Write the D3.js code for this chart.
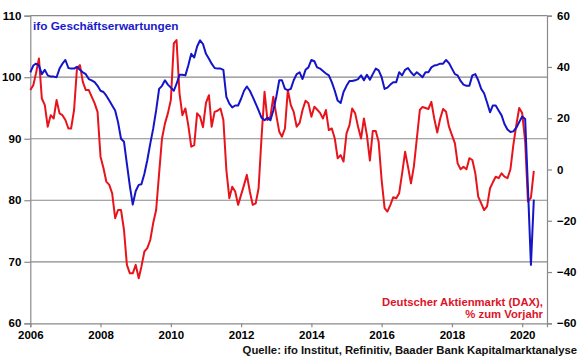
<!DOCTYPE html>
<html><head><meta charset="utf-8">
<script src="https://cdn.jsdelivr.net/npm/d3@7"></script>
<style>
html,body{margin:0;padding:0;background:#fff;}
svg text{font-family:Arial,"Liberation Sans",sans-serif;font-weight:bold;}
</style></head>
<body>
<svg id="c" width="580" height="359"></svg>
<script>
// Monthly data, Jan 2006 .. May 2020
const startYear = 2006, startMonth = 0;
const ifoExpectations = [
100.8,101.9,102.2,101.9,100.5,101.2,100.3,100.1,100.1,100.0,101.4,102.2,
102.8,101.5,101.4,101.4,101.7,101.2,100.8,100.5,99.7,99.5,99.2,98.6,
97.8,97.6,97.0,96.2,95.4,94.6,92.7,90.0,89.5,85.9,82.3,79.3,
81.5,82.5,82.6,84.3,86.5,89.2,91.6,94.6,98.1,98.6,99.5,98.8,
98.3,97.8,98.9,100.4,100.4,100.3,101.9,103.8,103.2,105.0,106.0,105.4,
103.8,103.0,102.2,101.5,101.4,101.4,101.2,96.8,95.7,95.1,95.4,95.4,
96.5,97.8,98.5,97.8,96.8,95.7,94.6,93.4,93.0,93.4,93.0,94.6,
96.8,99.5,99.5,98.1,97.9,98.1,99.5,100.5,100.8,99.7,101.2,101.6,
102.8,102.6,101.6,101.4,101.0,100.6,100.3,99.2,97.8,96.2,95.8,97.6,
98.6,99.4,99.4,99.5,99.7,100.3,99.5,100.4,99.6,100.5,101.4,101.1,
100.0,98.1,98.3,98.8,99.2,99.2,100.8,100.3,101.2,101.5,100.8,100.3,
100.8,100.4,100.0,100.8,100.8,101.6,101.9,102.0,102.2,102.2,102.8,102.3,
101.4,100.5,100.3,99.4,98.8,98.6,98.6,100.3,100.5,99.5,98.1,97.4,
95.9,94.3,95.4,95.4,94.6,93.8,92.4,91.5,91.1,91.2,91.8,92.7,
93.6,93.2,82.0,69.5,80.1
];
const daxYoY = [
31.0,32.9,37.5,43.3,27.7,25.1,16.7,21.2,19.9,27.1,21.9,21.2,
19.3,16.0,16.0,23.2,39.4,40.7,34.2,31.0,31.0,28.4,25.8,22.5,
5.0,0.5,-4.7,-6.0,-9.3,-19.0,-15.8,-15.8,-23.6,-37.2,-40.5,-40.5,
-37.2,-42.4,-37.9,-32.0,-30.7,-27.5,-21.0,-15.8,-1.5,12.1,18.0,21.9,
27.1,49.2,50.5,29.7,21.2,23.8,17.3,8.9,9.5,21.9,20.6,16.5,
26.0,29.0,16.7,22.5,22.9,23.8,19.3,-0.2,-11.2,-6.7,-8.6,-13.8,
-9.9,-6.0,-2.1,-8.6,-13.8,-13.2,-7.3,12.8,30.3,19.3,20.6,28.4,
21.2,14.7,12.8,16.0,31.0,25.1,22.5,16.7,18.2,23.2,26.8,25.8,
20.6,24.5,23.4,22.1,19.9,23.2,15.4,16.0,12.1,4.4,5.6,3.1,
14.1,17.3,23.8,21.9,16.7,12.1,19.9,13.4,3.5,15.0,15.0,10.8,
-4.1,-15.1,-16.4,-13.8,-10.8,-11.2,-9.3,-1.5,6.9,1.1,-5.4,1.1,
12.1,23.2,24.4,24.0,23.6,26.4,19.9,14.4,19.9,23.6,22.5,16.7,
13.4,10.2,2.4,0.1,1.1,0.1,4.4,3.7,-1.5,-10.6,-13.2,-15.8,
-14.4,-7.3,-5.1,-2.8,-3.4,-1.5,-2.8,-3.4,0.1,9.5,17.3,24.0,
22.0,11.0,-12.5,-11.0,-0.5
];
const xTickYears = [2006,2008,2010,2012,2014,2016,2018,2020];
const leftTicks = [60,70,80,90,100,110];
const rightTicks = [-60,-40,-20,0,20,40,60];
const titleLeft = "ifo Geschäftserwartungen";
const titleRight = ["Deutscher Aktienmarkt (DAX),", "% zum Vorjahr"];
const source = "Quelle: ifo Institut, Refinitiv, Baader Bank Kapitalmarktanalyse";

const months = ifoExpectations.map((_, i) => new Date(startYear, startMonth + i, 1));

const L = 30.3, R = 547, T = 15.7, B = 323.3;
const svg = d3.select("#c");
const x = d3.scaleTime().domain([new Date(2006,0,1), new Date(2020,8,15)]).range([L, R]);
const yL = d3.scaleLinear().domain([60,110]).range([B, T]);
const yR = d3.scaleLinear().domain([-60,60]).range([B, T]);
const gridCol = "#8a8a8a";

// grid lines
svg.append("g").selectAll("line").data(leftTicks.filter(d => d > 60)).join("line")
  .attr("x1", L).attr("x2", R).attr("y1", d => yL(d)).attr("y2", d => yL(d))
  .attr("stroke", gridCol).attr("stroke-width", 1.2);

// axes
const axL = d3.axisLeft(yL).tickValues(leftTicks).tickSize(6).tickPadding(3).tickFormat(d3.format("d"));
const axR = d3.axisRight(yR).tickValues(rightTicks).tickSize(5).tickPadding(5).tickFormat(d3.format("d"));
const axB = d3.axisBottom(x).tickValues(xTickYears.map(y => new Date(y,0,1))).tickSize(4).tickPadding(4).tickFormat(d3.timeFormat("%Y"));

function styleAxis(g){
  g.select(".domain").attr("stroke", gridCol).attr("stroke-width", 1.2);
  g.selectAll(".tick line").attr("stroke", gridCol).attr("stroke-width", 1.2);
  g.selectAll(".tick text").attr("fill", "#000").style("font-size", "11.5px").style("font-weight", "bold")
    .style("font-family", "Arial, 'Liberation Sans', sans-serif");
}
svg.append("g").attr("transform", `translate(${L},0)`).call(axL).call(styleAxis);
svg.append("g").attr("transform", `translate(${R},0)`).call(axR).call(styleAxis);
svg.append("g").attr("transform", `translate(0,${B})`).call(axB).call(styleAxis);

// lines
const redLine = d3.line().x((d,i) => x(months[i])).y(d => yR(d));
const blueLine = d3.line().x((d,i) => x(months[i])).y(d => yL(d));
svg.append("path").datum(daxYoY).attr("d", redLine).attr("fill","none")
  .attr("stroke","#e8141c").attr("stroke-width",2).attr("stroke-linejoin","round");
svg.append("path").datum(ifoExpectations).attr("d", blueLine).attr("fill","none")
  .attr("stroke","#1414c8").attr("stroke-width",2).attr("stroke-linejoin","round");

// labels
svg.append("text").attr("x", 33).attr("y", 29.5).attr("fill", "#1a1acc")
  .style("font-size", "11.8px").text(titleLeft);
svg.append("text").attr("text-anchor","end").attr("x", 543).attr("y", 305.5).attr("fill","#dc1428")
  .style("font-size","11.3px").text(titleRight[0]);
svg.append("text").attr("text-anchor","end").attr("x", 543).attr("y", 318).attr("fill","#dc1428")
  .style("font-size","11.3px").text(titleRight[1]);
svg.append("text").attr("text-anchor","end").attr("x", 577).attr("y", 354).attr("fill","#111")
  .style("font-size","11.3px").text(source);
</script>
</body></html>
